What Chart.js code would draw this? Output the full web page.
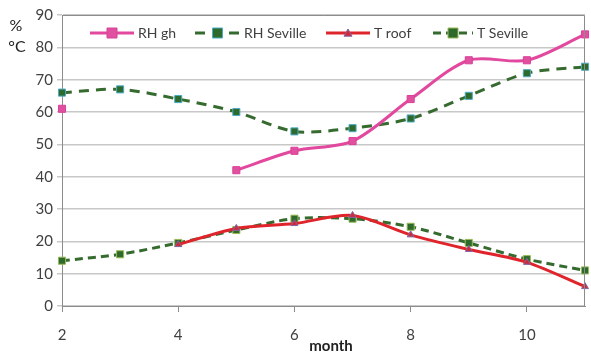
<!DOCTYPE html>
<html>
<head>
<meta charset="utf-8">
<script src="https://cdn.jsdelivr.net/npm/chart.js@4"></script>
<style>
  html, body { margin: 0; padding: 0; background: #fff; }
  #wrap { width: 591px; height: 356px; position: relative; }
</style>
</head>
<body>
<div id="wrap"><canvas id="chart"></canvas></div>
<script>
// Data
const months = [2, 3, 4, 5, 6, 7, 8, 9, 10, 11];
const rhGh      = [61, null, null, 42, 48, 51, 64, 76, 76, 84];
const rhSeville = [66, 67, 64, 60, 54, 55, 58, 65, 72, 74];
const tRoof     = [null, null, 19, 24, 25.5, 28, 22, 17.5, 13.5, 6];
const tSeville  = [14, 16, 19.5, 23.5, 27, 27, 24.5, 19.5, 14.5, 11];
const seriesNames = ["RH gh", "RH Seville", "T roof", "T Seville"];

const toXY = arr => months.map((m, i) => ({ x: m, y: arr[i] }));

const FONT = "Lato, 'Open Sans', sans-serif";

function drawMarker(ctx, style, x, y, r) {
  if (style === "triangle") {
    ctx.moveTo(x, y - r);
    ctx.lineTo(x + r, y + r * 0.8);
    ctx.lineTo(x - r, y + r * 0.8);
    ctx.closePath();
  } else {
    ctx.rect(x - r, y - r, 2 * r, 2 * r);
  }
}

// legend drawn inside the plot area, like the original
const insideLegend = {
  id: "insideLegend",
  afterDraw(chart) {
    const ctx = chart.ctx;
    const items = [
      { x: 90, w: 44 },
      { x: 195, w: 45 },
      { x: 326, w: 44 },
      { x: 433, w: 40 }
    ];
    const y = 33;
    ctx.save();
    chart.data.datasets.forEach((ds, i) => {
      const it = items[i];
      ctx.strokeStyle = ds.borderColor;
      ctx.lineWidth = ds.borderWidth;
      ctx.setLineDash(ds.borderDash || []);
      ctx.beginPath();
      ctx.moveTo(it.x, y);
      ctx.lineTo(it.x + it.w, y);
      ctx.stroke();
      ctx.setLineDash([]);
      ctx.fillStyle = ds.pointBackgroundColor;
      ctx.strokeStyle = ds.pointBorderColor;
      ctx.lineWidth = 1;
      ctx.beginPath();
      drawMarker(ctx, ds.pointStyle, it.x + it.w / 2, y, ds.pointRadius);
      ctx.fill();
      ctx.stroke();
      ctx.fillStyle = "#404040";
      ctx.font = "14px " + FONT;
      ctx.textBaseline = "middle";
      ctx.textAlign = "left";
      ctx.fillText(ds.label, it.x + it.w + 4, y);
    });
    // axis titles
    ctx.fillStyle = "#222";
    ctx.font = "16px " + FONT;
    ctx.textAlign = "center";
    ctx.fillText("%", 16, 26);
    ctx.fillText("\u00B0C", 17, 47);
    ctx.font = "bold 15px " + FONT;
    ctx.fillText("month", 331, 346);
    // plot border
    const a = chart.chartArea;
    ctx.strokeStyle = "#8c8c8c";
    ctx.lineWidth = 1;
    ctx.beginPath();
    ctx.moveTo(a.left, a.top + 0.5);
    ctx.lineTo(a.right - 0.5, a.top + 0.5);
    ctx.lineTo(a.right - 0.5, a.bottom);
    ctx.stroke();
    ctx.restore();
  }
};

new Chart(document.getElementById("chart"), {
  type: "line",
  data: {
    datasets: [
      {
        label: seriesNames[0], data: toXY(rhGh),
        borderColor: "#E2489D", borderWidth: 3,
        pointStyle: "rect", pointRadius: 5,
        pointBackgroundColor: "#E0509F", pointBorderColor: "#D9409A", pointBorderWidth: 1,
        tension: 0.3, spanGaps: false, clip: false
      },
      {
        label: seriesNames[1], data: toXY(rhSeville),
        borderColor: "#356B2E", borderWidth: 3, borderDash: [10, 7],
        pointStyle: "rect", pointRadius: 5,
        pointBackgroundColor: "#2F6A2D", pointBorderColor: "#4BACC6", pointBorderWidth: 1,
        tension: 0.3, clip: false
      },
      {
        label: seriesNames[2], data: toXY(tRoof),
        borderColor: "#E0242C", borderWidth: 3,
        pointStyle: "triangle", pointRadius: 4,
        pointBackgroundColor: "#D02A3A", pointBorderColor: "#8064A2", pointBorderWidth: 1,
        tension: 0.3, spanGaps: false, clip: false
      },
      {
        label: seriesNames[3], data: toXY(tSeville),
        borderColor: "#356B2E", borderWidth: 3, borderDash: [8, 5],
        pointStyle: "rect", pointRadius: 5,
        pointBackgroundColor: "#2F6A2D", pointBorderColor: "#9BBB59", pointBorderWidth: 1,
        tension: 0.3, clip: false
      }
    ]
  },
  options: {
    responsive: true,
    maintainAspectRatio: false,
    animation: false,
    layout: { padding: { top: 15, right: 2, left: 0, bottom: 0 } },
    plugins: { legend: { display: false }, tooltip: { enabled: false } },
    scales: {
      x: {
        type: "linear", min: 2, max: 11,
        afterFit: s => { s.height = 50; },
        afterBuildTicks: s => { s.ticks = [2, 4, 6, 8, 10].map(v => ({ value: v })); },
        grid: { drawOnChartArea: false, drawTicks: true, tickLength: 6, color: "#8c8c8c" },
        border: { color: "#8c8c8c" },
        ticks: { padding: 14, color: "#404040", font: { family: FONT, size: 15 }, maxRotation: 0 }
      },
      y: {
        min: 0, max: 90,
        afterFit: s => { s.width = 62; },
        grid: { color: "#c8c8c8", tickLength: 5, lineWidth: 1.5 },
        border: { color: "#8c8c8c" },
        ticks: { stepSize: 10, padding: 4, color: "#404040", font: { family: FONT, size: 15 } }
      }
    }
  },
  plugins: [insideLegend]
});
</script>
</body>
</html>
